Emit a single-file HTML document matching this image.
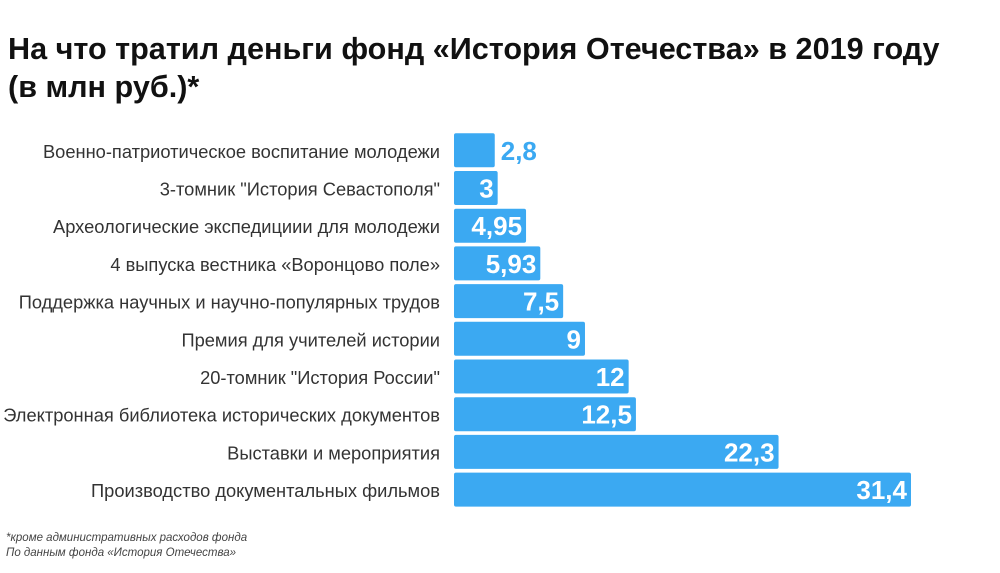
<!DOCTYPE html>
<html><head><meta charset="utf-8"><style>
body{margin:0;background:#fff;width:1000px;height:573px;overflow:hidden;font-family:"Liberation Sans",sans-serif;}
#t{position:absolute;left:8px;top:30px;font-size:30.6px;font-weight:bold;color:#111;line-height:38px;}
.fn{position:absolute;left:6px;font-size:11.5px;font-style:italic;color:#444;}
</style></head><body>
<div id="t">На что тратил деньги фонд «История Отечества» в 2019 году<br>(в млн руб.)*</div>
<svg id="c" width="1000" height="573" style="position:absolute;left:0;top:0"></svg>
<div class="fn" style="top:532px">*кроме административных расходов фонда</div>
<div class="fn" style="top:547px">По данным фонда «История Отечества»</div>
<script>
const categories=["Военно-патриотическое воспитание молодежи","3-томник \"История Севастополя\"","Археологические экспедициии для молодежи","4 выпуска вестника «Воронцово поле»","Поддержка научных и научно-популярных трудов","Премия для учителей истории","20-томник \"История России\"","Электронная библиотека исторических документов","Выставки и мероприятия","Производство документальных фильмов"];
const values=[2.8,3,4.95,5.93,7.5,9,12,12.5,22.3,31.4];
const valueLabels=["2,8","3","4,95","5,93","7,5","9","12","12,5","22,3","31,4"];
const svg=document.getElementById('c');const NS='http://www.w3.org/2000/svg';
const x0=454,scale=457/31.4,y0=133.3,pitch=37.7,h=34;
const xs=v=>v*scale;
categories.forEach((c,i)=>{
 const y=y0+i*pitch,w=xs(values[i]);
 const r=document.createElementNS(NS,'rect');
 r.setAttribute('x',x0);r.setAttribute('y',y);r.setAttribute('width',w);r.setAttribute('height',h);r.setAttribute('rx',2);r.setAttribute('fill','#3ba9f2');
 
 
 svg.appendChild(r);
 const l=document.createElementNS(NS,'text');
 l.setAttribute('x',440);l.setAttribute('y',y+h/2+7.5);l.setAttribute('text-anchor','end');l.setAttribute('font-size','18.3');l.setAttribute('fill','#333');l.textContent=c;
 
 
 svg.appendChild(l);
 const v=document.createElementNS(NS,'text');
 const inside=w>42;
 v.setAttribute('x',inside?x0+w-4:x0+w+6);v.setAttribute('y',y+h/2+9.5);v.setAttribute('text-anchor',inside?'end':'start');
 v.setAttribute('font-size','26');v.setAttribute('font-weight','bold');v.setAttribute('fill',inside?'#fff':'#3ba9f2');v.textContent=valueLabels[i];
 
 
 svg.appendChild(v);
});
</script>
</body></html>
